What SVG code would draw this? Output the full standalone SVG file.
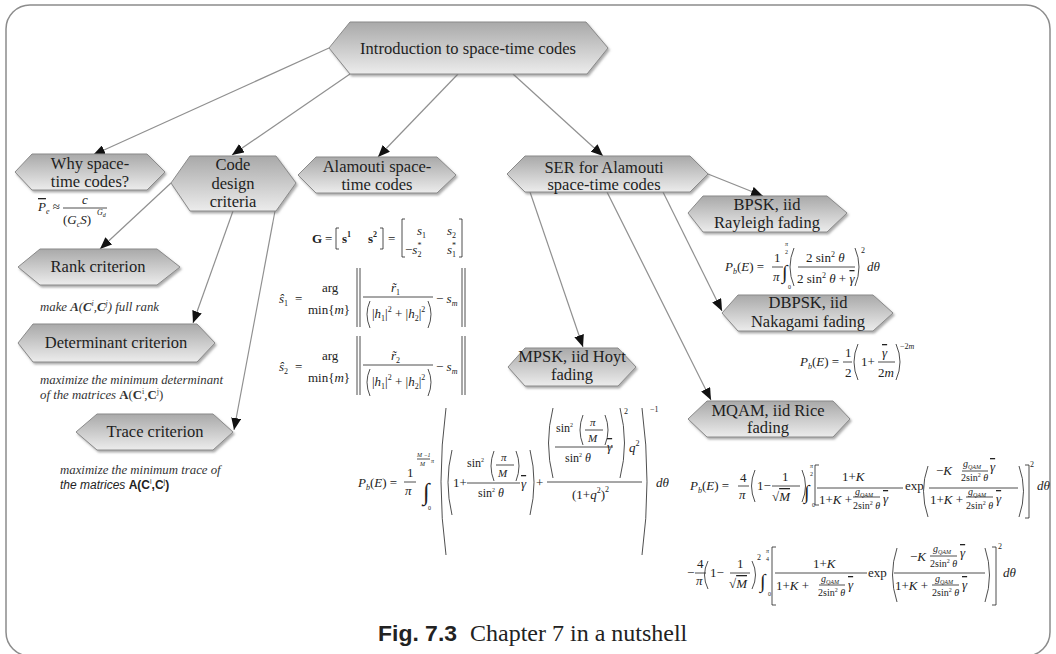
<svg xmlns="http://www.w3.org/2000/svg" width="1056" height="654" viewBox="0 0 1056 654">
<style>
.n{fill:url(#g);stroke:#8a8a8a;stroke-width:1;filter:url(#sh)}
.t{font-family:"Liberation Serif","DejaVu Serif",serif;font-size:16.5px;text-anchor:middle;fill:#1e1e1e}
.e{fill:none;stroke:#909090;stroke-width:1.2;marker-end:url(#a)}
.f{font-family:"Liberation Serif","DejaVu Serif",serif;font-size:13px;fill:#222}
.i{font-style:italic}
.b{font-weight:bold}
.s{font-size:8px}
.xs{font-size:6px}
.sm{font-size:10px}
.ov{text-decoration:overline}
.ln{stroke:#222;stroke-width:0.8;fill:none}
.an{font-family:"Liberation Serif","DejaVu Serif",serif;font-style:italic;font-size:12.8px;fill:#333}
</style>
<defs>
<linearGradient id="g" x1="0" y1="0" x2="0" y2="1">
<stop offset="0" stop-color="#a9a9a9"/>
<stop offset="1" stop-color="#ececec"/>
</linearGradient>
<filter id="sh" x="-10%" y="-20%" width="130%" height="160%">
<feDropShadow dx="1.5" dy="2" stdDeviation="1.2" flood-color="#666" flood-opacity="0.55"/>
</filter>
<marker id="a" viewBox="0 0 12 10" refX="12" refY="5" markerWidth="12" markerHeight="10" markerUnits="userSpaceOnUse" orient="auto">
<path d="M0,0 L12,5 L0,10 z" fill="#111"/>
</marker>
</defs>
<rect x="6" y="5" width="1044" height="651" rx="24" fill="none" stroke="#8c8c8c" stroke-width="1.5"/>

<g id="connectors">
<path class="e" d="M329,48 L93,155"/>
<path class="e" d="M350,74 L232,155"/>
<path class="e" d="M458,74 L378,157"/>
<path class="e" d="M513,74 L603,156"/>
<path class="e" d="M171,183 L100,249"/>
<path class="e" d="M233,211 L193,323"/>
<path class="e" d="M275,211 L234,430"/>
<path class="e" d="M708,174 L763,196"/>
<path class="e" d="M663,192 L722,311"/>
<path class="e" d="M530,192 L583,347"/>
<path class="e" d="M607,192 L711,400"/>
</g>

<g id="intro">
<polygon class="n" points="329,48 350,22 586,22 608,48 587,74 350,74"/>
<text class="t" x="468" y="54">Introduction to space-time codes</text>
</g>

<g id="why">
<polygon class="n" points="15,172 32,154 147,154 165,172 147,190 32,190"/>
<text class="t" x="90" y="169">Why space-</text>
<text class="t" x="90" y="187">time codes?</text>
<g class="f">
<text x="38" y="211"><tspan class="i ov">P</tspan><tspan class="s i" dy="3">e</tspan><tspan dy="-3"> ≈</tspan></text>
<text x="82" y="204" class="i">c</text>
<line class="ln" x1="63" y1="208" x2="107" y2="208"/>
<text x="63" y="224">(<tspan class="i">G</tspan><tspan class="s i" dy="3">c</tspan><tspan class="i" dy="-3">S</tspan>)</text>
<text x="97" y="215" class="s i">G<tspan class="xs" dy="2">d</tspan></text>
</g>
</g>

<g id="code">
<polygon class="n" points="171,183 190,156 276,156 296,183 276,211 190,211"/>
<text class="t" x="233" y="170">Code</text>
<text class="t" x="233" y="189">design</text>
<text class="t" x="233" y="207">criteria</text>
</g>

<g id="alamouti">
<polygon class="n" points="298,175 316,157 437,157 456,175 437,193 316,193"/>
<text class="t" x="377" y="172">Alamouti space-</text>
<text class="t" x="377" y="190">time codes</text>
<g class="f" font-size="14">
<text x="312" y="243" class="b">G</text>
<text x="325" y="243">=</text>
<path class="ln" d="M339,228 h-3 v21 h3 M380,228 h3 v21 h-3 M405,219 h-3 v38 h3 M459,219 h3 v38 h-3"/>
<text x="342" y="243" class="b">s<tspan class="s" dy="-6">1</tspan></text>
<text x="368" y="243" class="b">s<tspan class="s" dy="-6">2</tspan></text>
<text x="388" y="243">=</text>
<text x="417" y="235" class="i">s<tspan class="s" dy="3" font-style="normal">1</tspan></text>
<text x="447" y="235" class="i">s<tspan class="s" dy="3" font-style="normal">2</tspan></text>
<text x="405" y="254">−<tspan class="i">s</tspan><tspan class="s" dy="-6">*</tspan><tspan class="s" dx="-4" dy="9">2</tspan></text>
<text x="447" y="254" class="i">s<tspan class="s" dy="-6" font-style="normal">*</tspan><tspan class="s" dx="-4" dy="9" font-style="normal">1</tspan></text>
</g>
<g class="f" font-size="14">
<text x="279" y="303" class="i">ŝ<tspan class="s" dy="3" font-style="normal">1</tspan></text>
<text x="295" y="303">=</text>
<text x="322" y="292">arg</text>
<text x="308" y="314">min{<tspan class="i">m</tspan>}</text>
<path class="ln" d="M357,268 v59 M360,268 v59 M462,268 v59 M465,268 v59 M363,297 h70 M370,301 q-6,13 0,27 M428,301 q6,13 0,27"/>
<text x="391" y="292" class="i">r̃<tspan class="s" dy="3" font-style="normal">1</tspan></text>
<text x="372" y="318">|<tspan class="i">h</tspan><tspan class="s" dy="3">1</tspan><tspan dy="-3">|</tspan><tspan class="s" dy="-6">2</tspan><tspan dy="6"> + |</tspan><tspan class="i">h</tspan><tspan class="s" dy="3">2</tspan><tspan dy="-3">|</tspan><tspan class="s" dy="-6">2</tspan></text>
<text x="436" y="303">− <tspan class="i">s</tspan><tspan class="s i" dy="3">m</tspan></text>
</g>
<g class="f" font-size="14">
<text x="279" y="371" class="i">ŝ<tspan class="s" dy="3" font-style="normal">2</tspan></text>
<text x="295" y="371">=</text>
<text x="322" y="360">arg</text>
<text x="308" y="382">min{<tspan class="i">m</tspan>}</text>
<path class="ln" d="M357,336 v59 M360,336 v59 M462,336 v59 M465,336 v59 M363,365 h70 M370,369 q-6,13 0,27 M428,369 q6,13 0,27"/>
<text x="391" y="360" class="i">r̃<tspan class="s" dy="3" font-style="normal">2</tspan></text>
<text x="372" y="386">|<tspan class="i">h</tspan><tspan class="s" dy="3">1</tspan><tspan dy="-3">|</tspan><tspan class="s" dy="-6">2</tspan><tspan dy="6"> + |</tspan><tspan class="i">h</tspan><tspan class="s" dy="3">2</tspan><tspan dy="-3">|</tspan><tspan class="s" dy="-6">2</tspan></text>
<text x="436" y="371">− <tspan class="i">s</tspan><tspan class="s i" dy="3">m</tspan></text>
</g>
</g>

<g id="ser">
<polygon class="n" points="507,174 525,156 690,156 708,174 690,192 525,192"/>
<text class="t" x="604" y="173">SER for Alamouti</text>
<text class="t" x="604" y="190">space-time codes</text>
</g>

<g id="rank">
<polygon class="n" points="18,267 40,249 157,249 180,267 157,285 40,285"/>
<text class="t" x="98" y="272">Rank criterion</text>
<text class="an" x="40" y="311">make <tspan class="b">A</tspan>(<tspan class="b">C</tspan><tspan font-size="8" dy="-5">i</tspan><tspan dy="5">,</tspan><tspan class="b">C</tspan><tspan font-size="8" dy="-5">j</tspan><tspan dy="5">) full rank</tspan></text>
</g>

<g id="determinant">
<polygon class="n" points="18,343 33,324 197,324 215,343 197,362 33,362"/>
<text class="t" x="116" y="348">Determinant criterion</text>
<text class="an" x="40" y="384">maximize the minimum determinant</text>
<text class="an" x="40" y="399">of the matrices <tspan font-style="normal" font-weight="bold">A</tspan><tspan font-style="normal">(</tspan><tspan font-style="normal" font-weight="bold">C</tspan><tspan font-style="normal" font-size="8" dy="-5">i</tspan><tspan font-style="normal" dy="5">,</tspan><tspan font-style="normal" font-weight="bold">C</tspan><tspan font-style="normal" font-size="8" dy="-5">j</tspan><tspan font-style="normal" dy="5">)</tspan></text>
</g>

<g id="trace">
<polygon class="n" points="76,432 97,414 213,414 233,432 213,450 97,450"/>
<text class="t" x="155" y="437">Trace criterion</text>
<text class="an" x="60" y="474">maximize the minimum trace of</text>
<text x="60" y="489" font-family="Liberation Sans, Arial, sans-serif" font-size="12px" font-style="italic" fill="#222">the matrices <tspan font-style="normal" font-weight="bold">A(C</tspan><tspan font-style="normal" font-size="7" dy="-5">i</tspan><tspan font-style="normal" font-weight="bold" dy="5">,C</tspan><tspan font-style="normal" font-size="7" dy="-5">j</tspan><tspan font-style="normal" font-weight="bold" dy="5">)</tspan></text>
</g>

<g id="bpsk">
<polygon class="n" points="688,213 703,196 827,196 847,213 827,232 703,232"/>
<text class="t" x="767" y="210">BPSK, iid</text>
<text class="t" x="767" y="228">Rayleigh fading</text>
<g class="f">
<text x="725" y="271"><tspan class="i">P</tspan><tspan class="s i" dy="3">b</tspan><tspan dy="-3">(</tspan><tspan class="i">E</tspan>) =</text>
<text x="774" y="262">1</text>
<text x="773" y="281" class="i">π</text>
<path class="ln" d="M772,267 h11 M798,267 h57 M794,248 q-8,19 0,38 M855,248 q8,19 0,38"/>
<text x="782" y="279" font-size="20">∫</text>
<text x="785" y="246" class="xs i">π</text>
<text x="785" y="254" class="xs">2</text>
<text x="788" y="289" class="xs">0</text>
<text x="806" y="262">2 sin<tspan class="s" dy="-5">2</tspan><tspan class="i" dy="5"> θ</tspan></text>
<text x="797" y="283">2 sin<tspan class="s" dy="-5">2</tspan><tspan class="i" dy="5"> θ</tspan> + <tspan class="i ov">γ</tspan></text>
<text x="861" y="253" class="s">2</text>
<text x="867" y="271" class="i">dθ</text>
</g>
</g>

<g id="dbpsk">
<polygon class="n" points="722,313 738,295 873,295 893,313 873,331 738,331"/>
<text class="t" x="808" y="308">DBPSK, iid</text>
<text class="t" x="808" y="327">Nakagami fading</text>
<g class="f">
<text x="800" y="366"><tspan class="i">P</tspan><tspan class="s i" dy="3">b</tspan><tspan dy="-3">(</tspan><tspan class="i">E</tspan>) =</text>
<text x="845" y="357">1</text>
<text x="845" y="377">2</text>
<path class="ln" d="M843,362 h9 M878,362 h17 M858,344 q-8,18 0,36 M896,344 q8,18 0,36"/>
<text x="861" y="366">1+</text>
<text x="882" y="357" class="i ov">γ</text>
<text x="878" y="377">2<tspan class="i">m</tspan></text>
<text x="900" y="349" class="s">−2<tspan class="i">m</tspan></text>
</g>
</g>

<g id="mpsk">
<polygon class="n" points="508,367 525,348 618,348 636,367 618,386 525,386"/>
<text class="t" x="572" y="362">MPSK, iid Hoyt</text>
<text class="t" x="572" y="380">fading</text>
<g class="f">
<text x="358" y="487"><tspan class="i">P</tspan><tspan class="s i" dy="3">b</tspan><tspan dy="-3">(</tspan><tspan class="i">E</tspan>) =</text>
<text x="407" y="477">1</text>
<text x="405" y="495" class="i">π</text>
<text x="417" y="457" class="xs i">M −1</text>
<text x="420" y="466" class="xs i">M</text>
<text x="431" y="463" class="xs i">π</text>
<text x="423" y="500" font-size="24">∫</text>
<text x="428" y="510" class="xs">0</text>
<path class="ln" d="M404,482 h12 M417,459 h13 M446,408 q-10,74 0,147 M642,408 q10,74 0,147 M452,450 q-8,32 0,65 M530,450 q8,32 0,65 M494,451 q-6,15 0,30 M516,451 q6,15 0,30 M496,465 h18 M467,483 h53 M547,482 h95 M553,408 q-9,35 0,70 M620,408 q9,35 0,70 M583,415 q-6,15 0,30 M605,415 q6,15 0,30 M585,430 h18 M555,447 h58"/>
<text x="650" y="412" class="s">−1</text>
<text x="453" y="487">1+</text>
<text x="467" y="467" font-size="12">sin<tspan class="xs" dy="-5">2</tspan></text>
<text x="501" y="461" font-size="11" class="i">π</text>
<text x="498" y="477" font-size="11" class="i">M</text>
<text x="478" y="497" font-size="12">sin<tspan class="xs" dy="-5">2</tspan><tspan class="i" dy="5"> θ</tspan></text>
<text x="521" y="488" class="i ov">γ</text>
<text x="536" y="487">+</text>
<text x="556" y="432" font-size="12">sin<tspan class="xs" dy="-5">2</tspan></text>
<text x="590" y="426" font-size="11" class="i">π</text>
<text x="588" y="442" font-size="11" class="i">M</text>
<text x="565" y="462" font-size="12">sin<tspan class="xs" dy="-5">2</tspan><tspan class="i" dy="5"> θ</tspan></text>
<text x="607" y="451" class="i ov">γ</text>
<text x="624" y="414" class="s">2</text>
<text x="629" y="452" class="i">q<tspan class="s" dy="-6" font-style="normal">2</tspan></text>
<text x="572" y="499">(1+<tspan class="i">q</tspan><tspan class="s" dy="-6">2</tspan><tspan dy="6">)</tspan><tspan class="s" dy="-7">2</tspan></text>
<text x="656" y="487" class="i">dθ</text>
</g>
</g>

<g id="mqam">
<polygon class="n" points="688,419 707,401 833,401 850,419 833,437 707,437"/>
<text class="t" x="768" y="416">MQAM, iid Rice</text>
<text class="t" x="768" y="433">fading</text>
<g class="f">
<text x="690" y="490"><tspan class="i">P</tspan><tspan class="s i" dy="3">b</tspan><tspan dy="-3">(</tspan><tspan class="i">E</tspan>) =</text>
<text x="740" y="482">4</text>
<text x="739" y="499" class="i">π</text>
<text x="757" y="490">1−</text>
<text x="782" y="481">1</text>
<text x="772" y="501">√<tspan class="i ov">M</tspan></text>
<text x="804" y="499" font-size="20">∫</text>
<text x="810" y="468" class="xs i">π</text>
<text x="810" y="476" class="xs">2</text>
<text x="812" y="507" class="xs">0</text>
<text x="842" y="481">1+<tspan class="i">K</tspan></text>
<text x="819" y="504">1+<tspan class="i">K</tspan> +</text>
<text x="855" y="495" class="sm i">g<tspan class="xs" dy="2">QAM</tspan></text>
<text x="853" y="509" class="sm">2sin<tspan class="xs" dy="-4">2</tspan><tspan class="i" dy="4"> θ</tspan></text>
<text x="883" y="503" class="i ov">γ</text>
<text x="905" y="490">exp</text>
<text x="936" y="475">−<tspan class="i">K</tspan></text>
<text x="963" y="467" class="sm i">g<tspan class="xs" dy="2">QAM</tspan></text>
<text x="961" y="481" class="sm">2sin<tspan class="xs" dy="-4">2</tspan><tspan class="i" dy="4"> θ</tspan></text>
<text x="990" y="471" class="i ov">γ</text>
<text x="930" y="504">1+<tspan class="i">K</tspan> +</text>
<text x="968" y="495" class="sm i">g<tspan class="xs" dy="2">QAM</tspan></text>
<text x="966" y="509" class="sm">2sin<tspan class="xs" dy="-4">2</tspan><tspan class="i" dy="4"> θ</tspan></text>
<text x="996" y="503" class="i ov">γ</text>
<text x="1030" y="467" class="s">2</text>
<text x="1037" y="490" class="i">dθ</text>
<path class="ln" d="M738,486 h11 M772,486 h28 M755,470 q-7,16 0,32 M802,470 q7,16 0,32 M819,465 h-4 v40 h4 M817,488 h86 M853,497 h27 M928,466 q-9,25 0,51 M1019,466 q9,25 0,51 M962,471 h26 M929,488 h89 M966,497 h27 M1025,465 h4 v53 h-4"/>

<text x="687" y="577">−</text>
<text x="697" y="568">4</text>
<text x="696" y="585" class="i">π</text>
<text x="710" y="577">1−</text>
<text x="737" y="568">1</text>
<text x="729" y="588">√<tspan class="i ov">M</tspan></text>
<text x="757" y="560" class="s">2</text>
<text x="760" y="588" font-size="20">∫</text>
<text x="766" y="553" class="xs i">π</text>
<text x="766" y="561" class="xs">4</text>
<text x="768" y="596" class="xs">0</text>
<text x="813" y="568">1+<tspan class="i">K</tspan></text>
<text x="776" y="590">1+<tspan class="i">K</tspan> +</text>
<text x="821" y="582" class="sm i">g<tspan class="xs" dy="2">QAM</tspan></text>
<text x="818" y="596" class="sm">2sin<tspan class="xs" dy="-4">2</tspan><tspan class="i" dy="4"> θ</tspan></text>
<text x="848" y="589" class="i ov">γ</text>
<text x="868" y="577">exp</text>
<text x="910" y="561">−<tspan class="i">K</tspan></text>
<text x="933" y="552" class="sm i">g<tspan class="xs" dy="2">QAM</tspan></text>
<text x="930" y="567" class="sm">2sin<tspan class="xs" dy="-4">2</tspan><tspan class="i" dy="4"> θ</tspan></text>
<text x="960" y="557" class="i ov">γ</text>
<text x="895" y="590">1+<tspan class="i">K</tspan> +</text>
<text x="935" y="582" class="sm i">g<tspan class="xs" dy="2">QAM</tspan></text>
<text x="932" y="596" class="sm">2sin<tspan class="xs" dy="-4">2</tspan><tspan class="i" dy="4"> θ</tspan></text>
<text x="962" y="589" class="i ov">γ</text>
<text x="998" y="549" class="s">2</text>
<text x="1003" y="577" class="i">dθ</text>
<path class="ln" d="M695,573 h11 M730,573 h20 M708,561 q-7,14 0,28 M752,561 q7,14 0,28 M776,547 h-4 v58 h4 M775,573 h92 M819,585 h26 M897,548 q-9,27 0,54 M985,548 q9,27 0,54 M930,556 h27 M894,573 h91 M932,585 h27 M992,547 h4 v58 h-4"/>
</g>
</g>

<g id="caption">
<text x="378" y="641" font-family="Liberation Sans, Arial, sans-serif" font-weight="bold" font-size="22" textLength="79" lengthAdjust="spacingAndGlyphs" fill="#222">Fig. 7.3</text>
<text x="470" y="641" font-family="Liberation Serif, Times New Roman, serif" font-size="24" fill="#222">Chapter 7 in a nutshell</text>
</g>
</svg>
